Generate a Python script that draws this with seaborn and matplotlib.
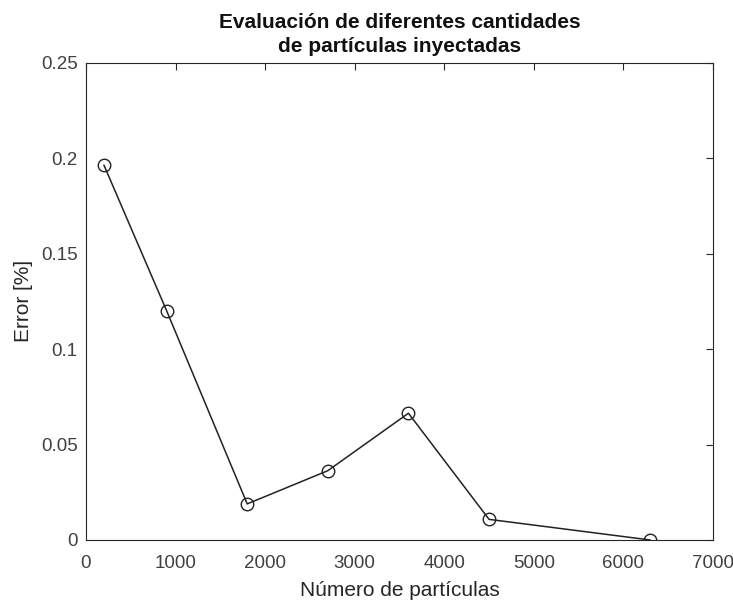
import matplotlib
matplotlib.use("Agg")
import matplotlib.pyplot as plt
import seaborn as sns
import pandas as pd

particulas = [200, 900, 1800, 2700, 3600, 4500, 6300]
error = [0.1964, 0.1201, 0.0189, 0.0363, 0.0664, 0.0108, 0.0]
xticks = [0, 1000, 2000, 3000, 4000, 5000, 6000, 7000]
yticks = [0, 0.05, 0.1, 0.15, 0.2, 0.25]
ytick_labels = ["0", "0.05", "0.1", "0.15", "0.2", "0.25"]

sns.set_theme(style="white")
plt.rcParams['font.family'] = ['Liberation Sans', 'DejaVu Sans']

df = pd.DataFrame({"x": particulas, "y": error})

fig = plt.figure(figsize=(7.33, 6.03), dpi=100)
ax = fig.add_axes([0.1173, 0.1045, 0.9727 - 0.1173, 0.896 - 0.1045])
sns.lineplot(data=df, x="x", y="y", ax=ax, color="#222222", linewidth=1.1,
             marker="o", markersize=9, markerfacecolor="none",
             markeredgecolor="#222222", markeredgewidth=1.0)

ax.set_xlim(0, 7000)
ax.set_ylim(0, 0.25)
ax.set_xticks(xticks)
ax.set_xticklabels([str(t) for t in xticks])
ax.set_yticks(yticks)
ax.set_yticklabels(ytick_labels)
ax.tick_params(direction="in", length=5, width=0.8, colors="#262626",
               labelsize=13.5, top=True, right=True, labelcolor="#404040", pad=6)
ax.tick_params(axis="x", pad=11)
for s in ax.spines.values():
    s.set_visible(True)
    s.set_color("#262626")
    s.set_linewidth(0.8)

ax.set_xlabel("Número de partículas", fontsize=15, color="#262626", labelpad=6)
ax.set_ylabel("Error [%]", fontsize=15, color="#262626", labelpad=6)
ax.set_title("Evaluación de diferentes cantidades\nde partículas inyectadas",
             fontsize=15, fontweight="bold", color="#111111", pad=8,
             linespacing=1.3)
ax.grid(False)

fig.savefig("out.png", dpi=100, facecolor="white")
